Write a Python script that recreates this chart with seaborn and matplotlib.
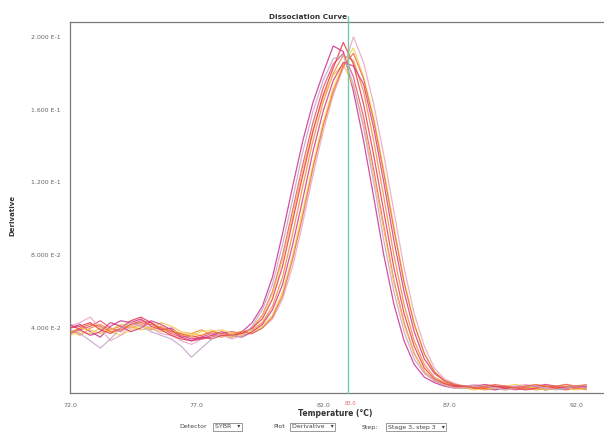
import matplotlib
matplotlib.use("Agg")
import matplotlib.pyplot as plt
import seaborn as sns
import pandas as pd

# ---------------- data ----------------
temperatures = [72.0, 72.4, 72.8, 73.2, 73.6, 74.0, 74.4, 74.8, 75.2, 75.6,
                76.0, 76.4, 76.8, 77.2, 77.6, 78.0, 78.4, 78.8, 79.2, 79.6,
                80.0, 80.4, 80.8, 81.2, 81.6, 82.0, 82.4, 82.8, 83.2, 83.6,
                84.0, 84.4, 84.8, 85.2, 85.6, 86.0, 86.4, 86.8, 87.2, 87.6,
                88.0, 88.4, 88.8, 89.2, 89.6, 90.0, 90.4, 90.8, 91.2, 91.6,
                92.0, 92.4]

well_01 = [0.040, 0.042, 0.038, 0.035, 0.041, 0.044, 0.043, 0.045, 0.041, 0.039,
           0.040, 0.036, 0.034, 0.035, 0.037, 0.036, 0.035, 0.038, 0.043,
           0.052, 0.068, 0.092, 0.118, 0.143, 0.164, 0.180, 0.195, 0.192, 0.170,
           0.143, 0.112, 0.080, 0.053, 0.033, 0.020, 0.013, 0.010, 0.008, 0.007,
           0.007, 0.008, 0.007, 0.006, 0.007, 0.008, 0.007, 0.007, 0.006, 0.007,
           0.008, 0.007, 0.007]
well_02 = [0.037, 0.039, 0.041, 0.044, 0.040, 0.038, 0.042, 0.044, 0.043, 0.040,
           0.037, 0.035, 0.036, 0.034, 0.035, 0.037, 0.038, 0.037, 0.040,
           0.047, 0.060, 0.080, 0.105, 0.130, 0.153, 0.172, 0.185, 0.191, 0.178,
           0.156, 0.127, 0.096, 0.066, 0.043, 0.026, 0.016, 0.011, 0.009, 0.0075,
           0.008, 0.007, 0.008, 0.008, 0.007, 0.006, 0.007, 0.008, 0.008, 0.007,
           0.006, 0.007, 0.008]
well_03 = [0.039, 0.036, 0.040, 0.042, 0.039, 0.041, 0.040, 0.042, 0.039, 0.041,
           0.038, 0.036, 0.037, 0.039, 0.036, 0.035, 0.037, 0.038, 0.039,
           0.043, 0.052, 0.068, 0.092, 0.118, 0.143, 0.164, 0.180, 0.190, 0.187,
           0.170, 0.143, 0.112, 0.080, 0.053, 0.033, 0.020, 0.013, 0.010, 0.008,
           0.007, 0.007, 0.006, 0.007, 0.008, 0.007, 0.007, 0.006, 0.007, 0.007,
           0.008, 0.007, 0.006]
well_04 = [0.036, 0.038, 0.037, 0.040, 0.038, 0.036, 0.039, 0.041, 0.040, 0.038,
           0.039, 0.037, 0.036, 0.038, 0.039, 0.036, 0.035, 0.037, 0.038,
           0.041, 0.047, 0.060, 0.080, 0.105, 0.130, 0.153, 0.172, 0.185, 0.194,
           0.178, 0.156, 0.127, 0.096, 0.066, 0.043, 0.026, 0.016, 0.011, 0.009,
           0.008, 0.008, 0.007, 0.007, 0.008, 0.009, 0.008, 0.007, 0.008, 0.008,
           0.007, 0.008, 0.008]
well_05 = [0.041, 0.043, 0.046, 0.040, 0.033, 0.036, 0.041, 0.043, 0.040, 0.037,
           0.036, 0.033, 0.031, 0.034, 0.037, 0.036, 0.034, 0.036, 0.037,
           0.040, 0.045, 0.056, 0.074, 0.098, 0.124, 0.148, 0.168, 0.183, 0.200,
           0.186, 0.163, 0.135, 0.104, 0.073, 0.048, 0.030, 0.018, 0.012, 0.0095,
           0.008, 0.009, 0.008, 0.007, 0.008, 0.008, 0.009, 0.008, 0.007, 0.008,
           0.009, 0.008, 0.008]
well_06 = [0.038, 0.040, 0.039, 0.037, 0.039, 0.042, 0.041, 0.039, 0.040, 0.043,
           0.041, 0.038, 0.037, 0.036, 0.038, 0.039, 0.037, 0.036, 0.040,
           0.047, 0.059, 0.078, 0.102, 0.127, 0.149, 0.167, 0.179, 0.185, 0.173,
           0.152, 0.124, 0.094, 0.065, 0.042, 0.026, 0.016, 0.011, 0.009, 0.007,
           0.007, 0.006, 0.007, 0.007, 0.006, 0.007, 0.008, 0.007, 0.006, 0.007,
           0.007, 0.006, 0.007]
well_07 = [0.040, 0.041, 0.043, 0.039, 0.037, 0.040, 0.044, 0.046, 0.043, 0.039,
           0.036, 0.034, 0.033, 0.035, 0.034, 0.036, 0.036, 0.037, 0.040,
           0.045, 0.056, 0.074, 0.099, 0.124, 0.148, 0.168, 0.183, 0.197, 0.185,
           0.163, 0.135, 0.104, 0.073, 0.048, 0.030, 0.018, 0.012, 0.0095, 0.008,
           0.008, 0.007, 0.007, 0.008, 0.007, 0.007, 0.006, 0.007, 0.008, 0.007,
           0.007, 0.008, 0.007]
well_08 = [0.042, 0.039, 0.036, 0.038, 0.043, 0.041, 0.038, 0.040, 0.044, 0.042,
           0.039, 0.035, 0.033, 0.034, 0.036, 0.038, 0.036, 0.035, 0.038,
           0.042, 0.050, 0.064, 0.086, 0.111, 0.137, 0.159, 0.176, 0.186, 0.184,
           0.174, 0.150, 0.120, 0.088, 0.060, 0.038, 0.023, 0.015, 0.011, 0.0085,
           0.008, 0.008, 0.009, 0.008, 0.008, 0.007, 0.008, 0.008, 0.009, 0.008,
           0.007, 0.008, 0.008]
well_09 = [0.039, 0.037, 0.033, 0.029, 0.034, 0.040, 0.043, 0.041, 0.038, 0.036,
           0.034, 0.030, 0.024, 0.029, 0.034, 0.037, 0.036, 0.035, 0.041,
           0.050, 0.064, 0.086, 0.111, 0.137, 0.159, 0.176, 0.188, 0.190, 0.174,
           0.150, 0.120, 0.088, 0.060, 0.038, 0.023, 0.015, 0.011, 0.0085, 0.007,
           0.007, 0.008, 0.008, 0.007, 0.006, 0.007, 0.008, 0.008, 0.007, 0.006,
           0.007, 0.008, 0.007]
well_10 = [0.037, 0.040, 0.042, 0.041, 0.038, 0.039, 0.042, 0.043, 0.042, 0.040,
           0.038, 0.037, 0.035, 0.036, 0.038, 0.037, 0.036, 0.038, 0.037,
           0.040, 0.046, 0.058, 0.078, 0.102, 0.128, 0.151, 0.170, 0.184, 0.191,
           0.177, 0.154, 0.125, 0.094, 0.065, 0.042, 0.026, 0.016, 0.011, 0.009,
           0.008, 0.007, 0.008, 0.009, 0.008, 0.007, 0.008, 0.009, 0.008, 0.008,
           0.009, 0.008, 0.009]

wells = ["A1", "A2", "A3", "A4", "A5", "A6", "A7", "A8", "A9", "A10"]
well_values = [well_01, well_02, well_03, well_04, well_05,
               well_06, well_07, well_08, well_09, well_10]

x_ticks = [72.0, 77.0, 82.0, 87.0, 92.0]
x_tick_labels = ["72.0", "77.0", "82.0", "87.0", "92.0"]
y_ticks = [0.04, 0.08, 0.12, 0.16, 0.20]
y_tick_labels = ["4.000 E-2", "8.000 E-2", "1.200 E-1", "1.600 E-1", "2.000 E-1"]
tm_marker = 83.0

# ---------------- styling ----------------
well_colors = ["#cc2f8f", "#e8506e", "#f28a3c", "#f0d84a", "#e9a3c4",
               "#f6c14a", "#e83a4a", "#d4387f", "#c3a6c8", "#ef6a3a"]

sns.set_theme(style="white")
plt.rcParams["font.family"] = ["DejaVu Sans"]

rows = []
for name, vals in zip(wells, well_values):
    for t, v in zip(temperatures, vals):
        rows.append({"well": name, "Temperature": t, "Derivative": v})
df = pd.DataFrame(rows)

fig = plt.figure(figsize=(6.04, 4.33), dpi=100)
ax = fig.add_axes([70 / 604, 40 / 433, 534 / 604, 371 / 433])

sns.lineplot(data=df, x="Temperature", y="Derivative", hue="well",
             palette=well_colors, estimator=None, legend=False,
             linewidth=0.9, alpha=0.85, ax=ax)

ax.set_xlim(72.0, 93.1)
ax.set_ylim(0.0043, 0.2082)
ax.set_xticks(x_ticks)
ax.set_xticklabels(x_tick_labels)
ax.set_yticks(y_ticks)
ax.set_yticklabels(y_tick_labels)
ax.tick_params(axis="both", length=0, labelsize=4.5, colors="#666666", pad=7)

for side in ["left", "bottom", "top"]:
    ax.spines[side].set_color("#7a7a7a")
    ax.spines[side].set_linewidth(0.9)
ax.spines["right"].set_visible(False)

ax.axvline(tm_marker, ymin=0, ymax=1.015, color="#6fcfa4", linewidth=1.0,
           clip_on=False, zorder=5)

ax.set_xlabel("")
ax.set_ylabel("")
fig.text(335 / 604, 1 - 414 / 433, "Temperature (°C)", ha="center", va="center",
         fontsize=5.5, fontweight="bold", color="#333333")
fig.text(350 / 604, 1 - 403.5 / 433, "83.0", ha="center", va="center",
         fontsize=3.8, color="#e06a6a")
fig.text(12 / 604, 1 - 215 / 433, "Derivative", ha="center", va="center",
         rotation=90, fontsize=5, fontweight="bold", color="#333333")
fig.text(308 / 604, 1 - 17 / 433, "Dissociation Curve", ha="center", va="center",
         fontsize=5.3, fontweight="bold", color="#333333")

# control row
ctrl_y = 1 - 427 / 433
box = dict(boxstyle="square,pad=0.25", fc="white", ec="#8a8a8a", lw=0.6)
fig.text(207 / 604, ctrl_y, "Detector", ha="right", va="center", fontsize=4.5, color="#444444")
fig.text(215 / 604, ctrl_y, "SYBR   ▾", ha="left", va="center", fontsize=4.5, color="#444444", bbox=box)
fig.text(285 / 604, ctrl_y, "Plot", ha="right", va="center", fontsize=4.5, color="#444444")
fig.text(292 / 604, ctrl_y, "Derivative   ▾", ha="left", va="center", fontsize=4.5, color="#444444", bbox=box)
fig.text(378 / 604, ctrl_y, "Step:", ha="right", va="center", fontsize=4.5, color="#444444")
fig.text(388 / 604, ctrl_y, "Stage 3, step 3   ▾", ha="left", va="center", fontsize=4.5, color="#444444", bbox=box)

fig.savefig("out.png", dpi=100)
